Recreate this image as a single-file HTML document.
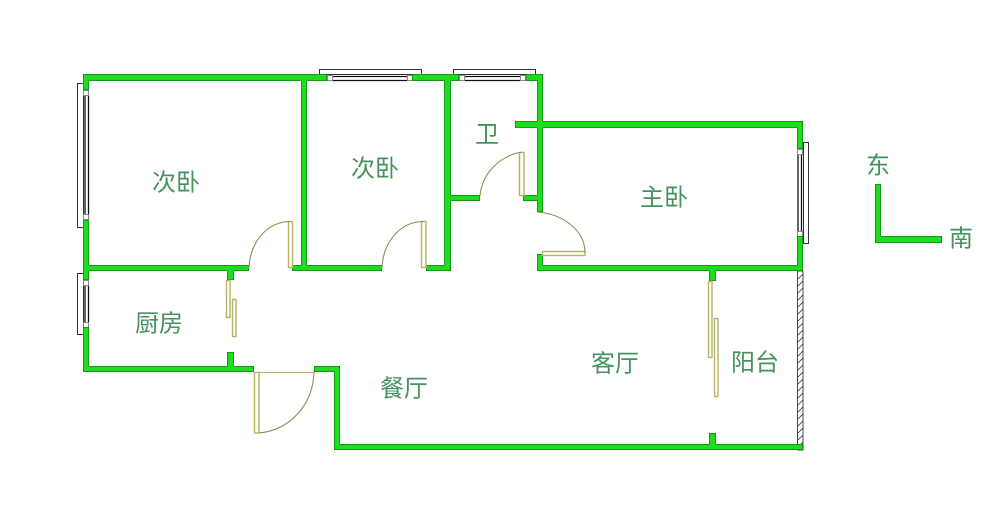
<!DOCTYPE html>
<html><head><meta charset="utf-8"><style>
html,body{margin:0;padding:0;background:#fff}
svg{display:block}
text{font-family:"Liberation Sans","WenQuanYi Zen Hei","Noto Sans CJK SC",sans-serif;font-size:24px;fill:#44935f;text-anchor:middle;dominant-baseline:central}
</style></head><body>
<svg width="1000" height="517" viewBox="0 0 1000 517" xmlns="http://www.w3.org/2000/svg">
<defs>
<g id="w">
<rect x="83.500" y="74.500" width="243" height="6"/>
<rect x="412.500" y="74.500" width="46" height="6"/>
<rect x="526.500" y="74.500" width="16" height="6"/>
<rect x="83.500" y="74.500" width="5" height="15"/>
<rect x="83.500" y="220.500" width="5" height="59"/>
<rect x="83.500" y="327.500" width="5" height="44"/>
<rect x="301.500" y="74.500" width="5" height="196"/>
<rect x="444.500" y="74.500" width="6" height="196"/>
<rect x="537.500" y="74.500" width="5" height="137"/>
<rect x="515.500" y="121.500" width="287" height="6"/>
<rect x="797.500" y="121.500" width="5" height="27"/>
<rect x="797.500" y="236.500" width="5" height="34"/>
<rect x="83.500" y="265.500" width="165" height="5"/>
<rect x="292.500" y="265.500" width="89" height="5"/>
<rect x="426.500" y="265.500" width="24" height="5"/>
<rect x="537.500" y="265.500" width="265" height="5"/>
<rect x="537.500" y="254.500" width="5" height="16"/>
<rect x="444.500" y="195.500" width="35" height="5"/>
<rect x="523.500" y="195.500" width="19" height="5"/>
<rect x="227.500" y="265.500" width="6" height="14"/>
<rect x="227.500" y="352.500" width="6" height="19"/>
<rect x="83.500" y="366.500" width="170" height="5"/>
<rect x="314.500" y="366.500" width="25" height="5"/>
<rect x="334.500" y="366.500" width="5" height="83"/>
<rect x="334.500" y="444.500" width="468" height="5"/>
<rect x="709.500" y="265.500" width="6" height="15"/>
<rect x="709.500" y="433.500" width="6" height="16"/>
<rect x="875.500" y="184.500" width="5" height="58"/>
<rect x="875.500" y="236.500" width="66" height="6"/>
</g>
</defs>
<!-- windows -->
<g fill="#fff" stroke="#333" stroke-width="1">
<rect x="77.500" y="83.500" width="6" height="144"/>
<rect x="77.500" y="273.500" width="6" height="61"/>
<rect x="319.500" y="69.500" width="102" height="5"/>
<rect x="453.500" y="69.500" width="82" height="5"/>
<rect x="803.500" y="142.500" width="5" height="101"/>
</g>
<g stroke="#111" stroke-width="1.300" fill="none">
<path d="M85 95V220M88.500 95V220M85 286V322M88.500 286V322"/>
<path d="M332 76.500H407M332 80.500H407M465 76.500H520M465 80.500H520"/>
<path d="M798 155V231M801.500 155V231"/>
</g>
<g fill="#fff" stroke="#888" stroke-width="1">
<rect x="83.500" y="90.500" width="5" height="5"/><rect x="83.500" y="214.500" width="5" height="5"/>
<rect x="83.500" y="280.500" width="5" height="5"/><rect x="83.500" y="322.500" width="5" height="5"/>
<rect x="327.500" y="75.500" width="5" height="5"/><rect x="407.500" y="75.500" width="5" height="5"/>
<rect x="459.500" y="75.500" width="5" height="5"/><rect x="520.500" y="75.500" width="5" height="5"/>
<rect x="797.500" y="149.500" width="5" height="5"/><rect x="797.500" y="231.500" width="5" height="5"/>
</g>
<!-- balcony hatch -->
<rect x="797.500" y="271" width="5.500" height="179" fill="#fff" stroke="#444" stroke-width="1"/>
<path d="M798 279l5-5M798 286l5-5M798 293l5-5M798 300l5-5M798 307l5-5M798 314l5-5M798 321l5-5M798 328l5-5M798 335l5-5M798 342l5-5M798 349l5-5M798 356l5-5M798 363l5-5M798 370l5-5M798 377l5-5M798 384l5-5M798 391l5-5M798 398l5-5M798 405l5-5M798 412l5-5M798 419l5-5M798 426l5-5M798 433l5-5M798 440l5-5M798 447l5-5" stroke="#333" stroke-width=".8" fill="none"/>
<!-- walls -->
<use href="#w" fill="#0b5c12" stroke="#0b5c12" stroke-width="1"/>
<use href="#w" fill="#1edc1e"/>
<!-- doors -->
<g fill="#fffff0" stroke="#b3b16c" stroke-width="1.400">
<rect x="288.500" y="221.500" width="4" height="46"/>
<rect x="421.500" y="221.500" width="4.500" height="46"/>
<rect x="519.500" y="152.500" width="4.500" height="43"/>
<rect x="542.500" y="251.500" width="42.500" height="4"/>
<rect x="226.500" y="280.500" width="3.500" height="37"/>
<rect x="232.500" y="299.500" width="3.500" height="37"/>
<rect x="708.500" y="281.500" width="3.500" height="76"/>
<rect x="714.500" y="318.500" width="3.500" height="78"/>
<rect x="254.500" y="372.500" width="4.500" height="60.500"/>
</g>
<g fill="none" stroke="#8f8c58" stroke-width="1.100">
<path d="M249 268C250 243 266 222 290 221.500"/>
<path d="M382 268C383 243 399 222 423 221.500"/>
<path d="M480 196C482 174 498 157 521 152"/>
<path d="M537 212C563 214 585 230 585 253"/>
<path d="M259 433C290 430 313 405 314 372"/>
<path d="M254 372.500H314" stroke="#b3b16c"/>
</g>
<!-- labels -->
<text x="176" y="183">次卧</text>
<text x="375" y="169">次卧</text>
<text x="487" y="135">卫</text>
<text x="664" y="198">主卧</text>
<text x="159" y="324">厨房</text>
<text x="404" y="389">餐厅</text>
<text x="615" y="364">客厅</text>
<text x="755" y="363">阳台</text>
<text x="878" y="166">东</text>
<text x="961" y="239">南</text>
</svg>
</body></html>
